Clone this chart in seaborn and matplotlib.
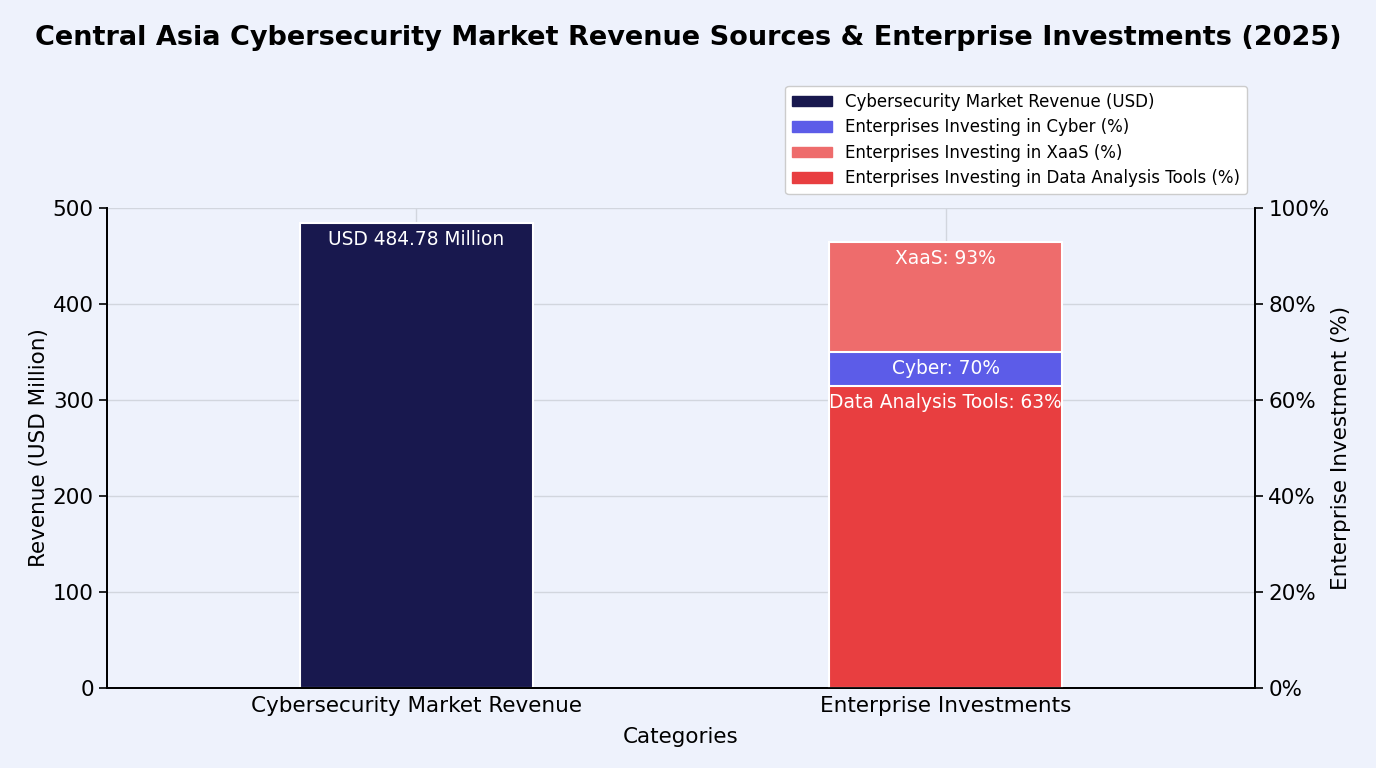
import seaborn as sns
import matplotlib.pyplot as plt
from matplotlib.patches import Patch
from matplotlib.ticker import PercentFormatter

categories = ["Cybersecurity Market Revenue", "Enterprise Investments"]
revenue_usd_m = [484.78]
invest_labels = ["XaaS", "Cyber", "Data Analysis Tools"]
invest_pct = [93, 70, 63]
invest_colors = ["#ee6c6c", "#5c5ce8", "#e83e40"]
revenue_color = "#18184e"

bg = "#eef2fc"
sns.set_style("white")
plt.rcParams["font.family"] = ["DejaVu Sans"]
plt.rcParams["text.color"] = "black"
plt.rcParams["axes.labelcolor"] = "black"
plt.rcParams["xtick.color"] = "black"
plt.rcParams["ytick.color"] = "black"

fig, ax = plt.subplots(figsize=(13.76, 7.68), dpi=100)
fig.patch.set_facecolor(bg)
ax.set_facecolor(bg)
fig.subplots_adjust(left=107 / 1376, right=1255 / 1376, top=1 - 208 / 768, bottom=1 - 688 / 768)

# revenue bar on the left axis
sns.barplot(x=categories[:1], y=revenue_usd_m, order=categories, color=revenue_color, saturation=1,
            width=0.44, edgecolor="white", linewidth=1.5, ax=ax, zorder=2)
ax.annotate(f"USD {revenue_usd_m[0]:.2f} Million", xy=(0, revenue_usd_m[0]), xytext=(0, -5),
            textcoords="offset points", ha="center", va="top", color="white", fontsize=13.4)

# investment bars on the right axis, drawn largest first so they overlap
ax2 = ax.twinx()
for lab, val, col in zip(invest_labels, invest_pct, invest_colors):
    sns.barplot(x=categories[1:], y=[val], order=categories, color=col, saturation=1,
                width=0.44, edgecolor="white", linewidth=1.5, ax=ax2)
    ax2.annotate(f"{lab}: {val}%", xy=(1, val), xytext=(0, -5), textcoords="offset points",
                 ha="center", va="top", color="white", fontsize=13.4)

ax.set_xlim(-0.585, 1.585)
ax2.set_xlim(-0.585, 1.585)
ax.set_ylim(0, 500)
ax2.set_ylim(0, 100)
ax.set_yticks(range(0, 501, 100))
ax2.set_yticks(range(0, 101, 20))
ax2.yaxis.set_major_formatter(PercentFormatter(decimals=0))

ax.set_xticks([0, 1])
ax.set_xticklabels(categories, fontsize=15.5)
ax.tick_params(axis="y", labelsize=15.5, direction="out", length=6, width=1.2, color="black")
ax.tick_params(axis="x", direction="in", length=6, width=1, color="#333333", pad=6)
ax2.tick_params(axis="y", labelsize=15.5, direction="out", length=6, width=1.2, color="black")
ax2.set_ylabel("Enterprise Investment (%)", fontsize=15.5, labelpad=1)
ax.set_ylabel("Revenue (USD Million)", fontsize=15.5, labelpad=3)
ax.set_xlabel("Categories", fontsize=15.5, labelpad=8)

ax.grid(True, color="#d2d6de", linewidth=1)
ax.set_axisbelow(True)
for a in (ax, ax2):
    a.spines["top"].set_visible(False)
    for s in ("left", "bottom", "right"):
        a.spines[s].set_color("black")
        a.spines[s].set_linewidth(1.3)
ax2.patch.set_visible(False)

handles = [Patch(color=revenue_color, label="Cybersecurity Market Revenue (USD)"),
           Patch(color=invest_colors[1], label="Enterprises Investing in Cyber (%)"),
           Patch(color=invest_colors[0], label="Enterprises Investing in XaaS (%)"),
           Patch(color=invest_colors[2], label="Enterprises Investing in Data Analysis Tools (%)")]
ax2.legend(handles=handles, loc="upper right", bbox_to_anchor=(0.993, 1.254), borderaxespad=0,
           fontsize=12, frameon=True, facecolor="white", edgecolor="#cccccc", framealpha=1,
           handlelength=2.4, handleheight=0.6, labelspacing=0.45)

fig.text(0.5, 1 - 38 / 768, "Central Asia Cybersecurity Market Revenue Sources & Enterprise Investments (2025)",
         ha="center", va="center", fontsize=19.5, fontweight="bold")

fig.savefig("out.png", dpi=100, facecolor=bg)
